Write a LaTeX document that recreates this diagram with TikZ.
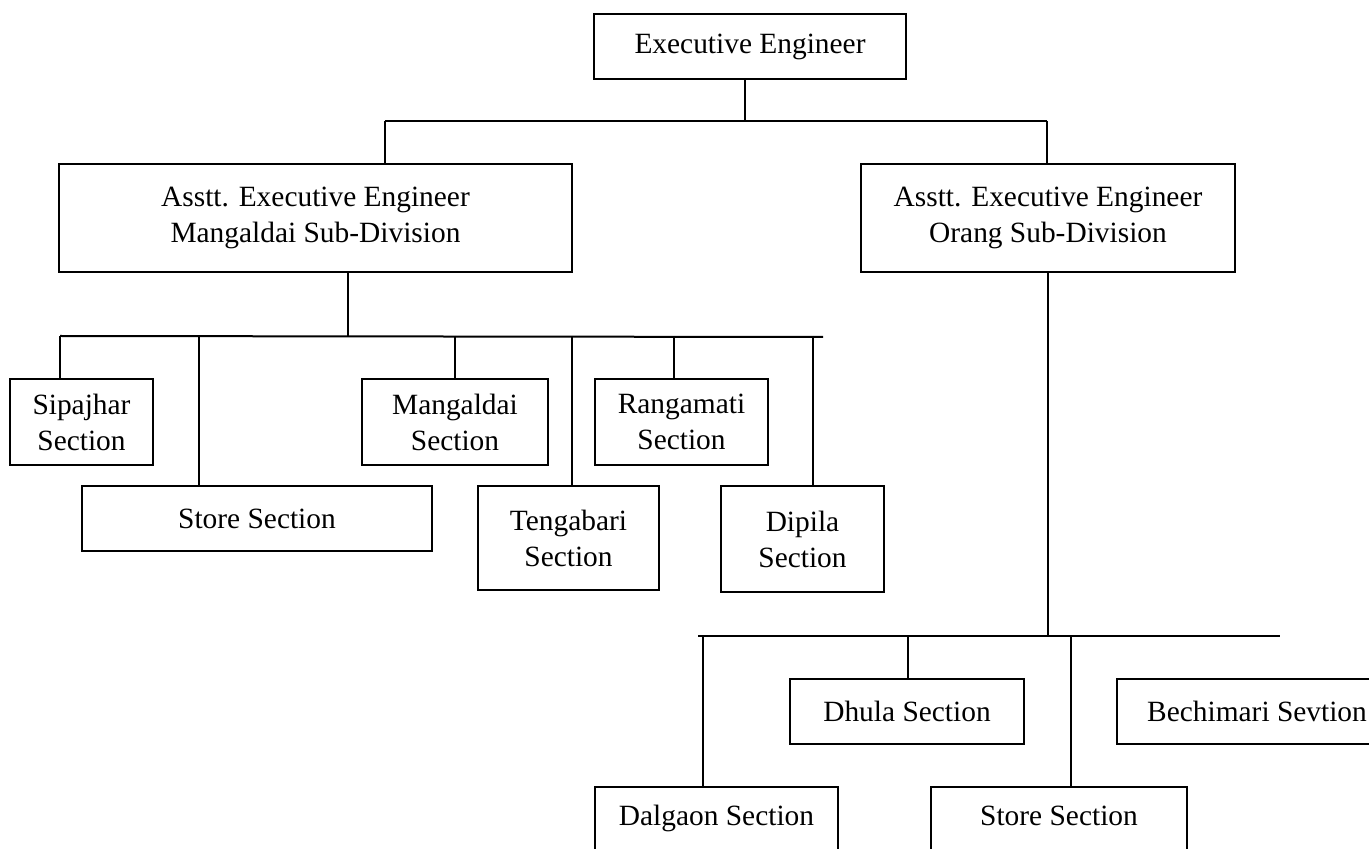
\documentclass[tikz,border=0pt]{standalone}
\usepackage{fontspec}
\setmainfont{Liberation Serif}

\tikzset{
  office/.style={draw, line width=1pt, align=center, inner sep=0pt, font=\fontsize{14.7}{18}\selectfont},
  link/.style={line width=0.7pt},
  rail/.style={line width=1pt}
}

\begin{document}
\begin{tikzpicture}[x=0.5pt,y=-0.5pt]
            \useasboundingbox (0,0) rectangle (1369,849);
            \clip (0,0) rectangle (1369,849);
            % offices
            \node[office, minimum width=156pt, minimum height=32.5pt] (ee) at (750,46.5) {Executive Engineer};
            \node[office, minimum width=256.5pt, minimum height=54pt] (aeeM) at (315.5,218) {Asstt. Executive Engineer\\Mangaldai Sub-Division};
            \node[office, minimum width=187pt, minimum height=54pt] (aeeO) at (1048,218) {Asstt. Executive Engineer\\Orang Sub-Division};
            % Mangaldai sections
            \node[office, minimum width=71.5pt, minimum height=43pt] (sip) at (81.5,422) {Sipajhar\\Section};
            \node[office, minimum width=175pt, minimum height=32.5pt] (store1) at (257,518.5) {Store Section};
            \node[office, minimum width=93pt, minimum height=43pt] (mang) at (455,422) {Mangaldai\\Section};
            \node[office, minimum width=90.5pt, minimum height=52pt] (teng) at (568.5,538) {Tengabari\\Section};
            \node[office, minimum width=86.5pt, minimum height=43pt] (rang) at (681.5,422) {Rangamati\\Section};
            \node[office, minimum width=81.5pt, minimum height=53pt] (dip) at (802.5,539) {Dipila\\Section};
            % Orang sections
            \node[office, minimum width=117pt, minimum height=32.5pt] (dhula) at (907,711.5) {Dhula Section};
            \node[office, minimum width=140pt, minimum height=32.5pt] (bech) at (1257,711.5) {Bechimari Sevtion};
            \node[office, minimum width=121.5pt, minimum height=33pt, text depth=0.45em] (dal) at (716.5,820) {Dalgaon Section};
            \node[office, minimum width=128pt, minimum height=33pt, text depth=0.45em] (store2) at (1059,820) {Store Section};
            % top level
            \coordinate (top) at (745,121);
            \coordinate (b0l) at (385,121);
            \coordinate (b0r) at (1047,121);
            \draw[link] (ee.south -| top) -- (top);
            \draw[rail] (b0l) -- (b0r);
            \draw[link] (b0l) -- (b0l |- aeeM.north);
            \draw[link] (b0r) -- (b0r |- aeeO.north);
            % Mangaldai bus
            \coordinate (m) at (348,336);
            \coordinate (b1l) at (60,336);
            \coordinate (b1r) at (823,337);
            \draw[link] (aeeM.south -| m) -- (m);
            \draw[rail] (b1l) -- (b1r);
            \foreach \x/\n in {60/sip,199/store1,455/mang,572/teng,674/rang,813/dip}{
                \coordinate (d) at (\x,336);
                \draw[link] (d) -- (d |- \n.north);
            }
            % Orang bus
            \coordinate (b2l) at (698,636);
            \coordinate (b2r) at (1280,636);
            \draw[link] (aeeO.south) -- (aeeO.south |- b2l);
            \draw[rail] (b2l) -- (b2r);
            \foreach \x/\n in {703/dal,908/dhula,1071/store2}{
                \coordinate (d) at (\x,636);
                \draw[link] (d) -- (d |- \n.north);
            }
        \end{tikzpicture}
\end{document}
